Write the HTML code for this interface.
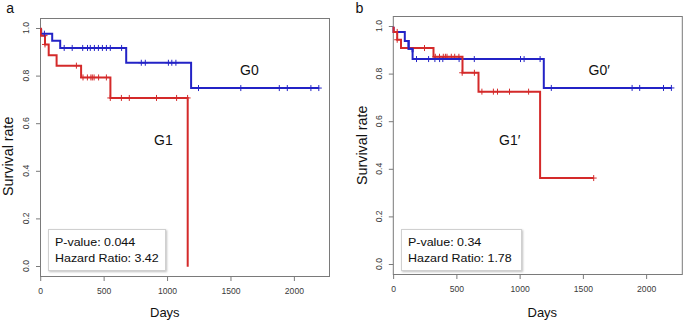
<!DOCTYPE html>
<html><head><meta charset="utf-8"><style>
html,body{margin:0;padding:0;background:#fff;}
body{width:685px;height:322px;position:relative;overflow:hidden;font-family:"Liberation Sans",sans-serif;}
.t{position:absolute;color:#111;white-space:nowrap;line-height:1;}
.leg{position:absolute;box-sizing:border-box;border:1px solid #d0d0d0;background:#fff;box-shadow:1px 1px 2px rgba(0,0,0,0.25);}
.lt{position:absolute;font-size:12.45px;color:#111;white-space:nowrap;line-height:1;transform-origin:0 100%;transform:scaleY(0.88);-webkit-text-stroke:0.05px #111;}
.rot{transform-origin:0 0;transform:rotate(-90deg);}
</style></head><body>
<svg width="685" height="322" viewBox="0 0 685 322" style="position:absolute;left:0;top:0">
<style>.tl{font-family:"Liberation Sans",sans-serif;font-size:9px;fill:#3a3a3a}</style>
<rect x="40.5" y="18.5" width="289" height="258" fill="none" stroke="#7a7a7a" stroke-width="1"/>
<path d="M36,266.50H40.5" stroke="#7a7a7a" stroke-width="1"/>
<text x="0" y="0" transform="translate(29.2,266.00) rotate(-90) scale(0.955,1)" text-anchor="middle" class="tl">0.0</text>
<path d="M36,218.90H40.5" stroke="#7a7a7a" stroke-width="1"/>
<text x="0" y="0" transform="translate(29.2,218.40) rotate(-90) scale(0.955,1)" text-anchor="middle" class="tl">0.2</text>
<path d="M36,171.30H40.5" stroke="#7a7a7a" stroke-width="1"/>
<text x="0" y="0" transform="translate(29.2,170.80) rotate(-90) scale(0.955,1)" text-anchor="middle" class="tl">0.4</text>
<path d="M36,123.70H40.5" stroke="#7a7a7a" stroke-width="1"/>
<text x="0" y="0" transform="translate(29.2,123.20) rotate(-90) scale(0.955,1)" text-anchor="middle" class="tl">0.6</text>
<path d="M36,76.10H40.5" stroke="#7a7a7a" stroke-width="1"/>
<text x="0" y="0" transform="translate(29.2,75.60) rotate(-90) scale(0.955,1)" text-anchor="middle" class="tl">0.8</text>
<path d="M36,28.50H40.5" stroke="#7a7a7a" stroke-width="1"/>
<text x="0" y="0" transform="translate(29.2,28.00) rotate(-90) scale(0.955,1)" text-anchor="middle" class="tl">1.0</text>
<path d="M40.72,276.5V281" stroke="#7a7a7a" stroke-width="1"/>
<text x="0" y="0" transform="translate(40.72,294.0) scale(0.955,1)" text-anchor="middle" class="tl">0</text>
<path d="M104.13,276.5V281" stroke="#7a7a7a" stroke-width="1"/>
<text x="0" y="0" transform="translate(104.13,294.0) scale(0.955,1)" text-anchor="middle" class="tl">500</text>
<path d="M167.55,276.5V281" stroke="#7a7a7a" stroke-width="1"/>
<text x="0" y="0" transform="translate(167.55,294.0) scale(0.955,1)" text-anchor="middle" class="tl">1000</text>
<path d="M230.97,276.5V281" stroke="#7a7a7a" stroke-width="1"/>
<text x="0" y="0" transform="translate(230.97,294.0) scale(0.955,1)" text-anchor="middle" class="tl">1500</text>
<path d="M294.38,276.5V281" stroke="#7a7a7a" stroke-width="1"/>
<text x="0" y="0" transform="translate(294.38,294.0) scale(0.955,1)" text-anchor="middle" class="tl">2000</text>
<rect x="393.3" y="16.5" width="289" height="258" fill="none" stroke="#7a7a7a" stroke-width="1"/>
<path d="M388.8,264.50H393.3" stroke="#7a7a7a" stroke-width="1"/>
<text x="0" y="0" transform="translate(382.0,264.00) rotate(-90) scale(0.955,1)" text-anchor="middle" class="tl">0.0</text>
<path d="M388.8,216.90H393.3" stroke="#7a7a7a" stroke-width="1"/>
<text x="0" y="0" transform="translate(382.0,216.40) rotate(-90) scale(0.955,1)" text-anchor="middle" class="tl">0.2</text>
<path d="M388.8,169.30H393.3" stroke="#7a7a7a" stroke-width="1"/>
<text x="0" y="0" transform="translate(382.0,168.80) rotate(-90) scale(0.955,1)" text-anchor="middle" class="tl">0.4</text>
<path d="M388.8,121.70H393.3" stroke="#7a7a7a" stroke-width="1"/>
<text x="0" y="0" transform="translate(382.0,121.20) rotate(-90) scale(0.955,1)" text-anchor="middle" class="tl">0.6</text>
<path d="M388.8,74.10H393.3" stroke="#7a7a7a" stroke-width="1"/>
<text x="0" y="0" transform="translate(382.0,73.60) rotate(-90) scale(0.955,1)" text-anchor="middle" class="tl">0.8</text>
<path d="M388.8,26.50H393.3" stroke="#7a7a7a" stroke-width="1"/>
<text x="0" y="0" transform="translate(382.0,26.00) rotate(-90) scale(0.955,1)" text-anchor="middle" class="tl">1.0</text>
<path d="M393.64,274.5V279.0" stroke="#7a7a7a" stroke-width="1"/>
<text x="0" y="0" transform="translate(393.64,292.0) scale(0.955,1)" text-anchor="middle" class="tl">0</text>
<path d="M456.89,274.5V279.0" stroke="#7a7a7a" stroke-width="1"/>
<text x="0" y="0" transform="translate(456.89,292.0) scale(0.955,1)" text-anchor="middle" class="tl">500</text>
<path d="M520.14,274.5V279.0" stroke="#7a7a7a" stroke-width="1"/>
<text x="0" y="0" transform="translate(520.14,292.0) scale(0.955,1)" text-anchor="middle" class="tl">1000</text>
<path d="M583.39,274.5V279.0" stroke="#7a7a7a" stroke-width="1"/>
<text x="0" y="0" transform="translate(583.39,292.0) scale(0.955,1)" text-anchor="middle" class="tl">1500</text>
<path d="M646.64,274.5V279.0" stroke="#7a7a7a" stroke-width="1"/>
<text x="0" y="0" transform="translate(646.64,292.0) scale(0.955,1)" text-anchor="middle" class="tl">2000</text>
<g transform="translate(0,0.25)">
<path d="M41.2,28.5V33.4H52.2V40.6H60.2V47.7H126.2V62.5H191.1V87.8H318.8" stroke="#2323c6" stroke-width="2" fill="none" stroke-linejoin="miter" stroke-linecap="butt"/>
<path d="M40.6,28.5H41V35.4H45V44.2H48.7V54.9H56.6V65.4H81.1V77.2H110.4V97.7H187.7V266.5" stroke="#d42a2a" stroke-width="2" fill="none" stroke-linejoin="miter" stroke-linecap="butt"/>
<path d="M41.50,35.40H47.50M44.50,32.40V38.40" stroke="#d42a2a" stroke-width="1" fill="none"/>
<path d="M42.00,44.20H48.00M45.00,41.20V47.20" stroke="#d42a2a" stroke-width="1" fill="none"/>
<path d="M73.40,65.40H79.40M76.40,62.40V68.40" stroke="#d42a2a" stroke-width="1" fill="none"/>
<path d="M80.00,77.20H86.00M83.00,74.20V80.20" stroke="#d42a2a" stroke-width="1" fill="none"/>
<path d="M84.40,77.20H90.40M87.40,74.20V80.20" stroke="#d42a2a" stroke-width="1" fill="none"/>
<path d="M87.90,77.20H93.90M90.90,74.20V80.20" stroke="#d42a2a" stroke-width="1" fill="none"/>
<path d="M89.30,77.20H95.30M92.30,74.20V80.20" stroke="#d42a2a" stroke-width="1" fill="none"/>
<path d="M91.10,77.20H97.10M94.10,74.20V80.20" stroke="#d42a2a" stroke-width="1" fill="none"/>
<path d="M95.60,77.20H101.60M98.60,74.20V80.20" stroke="#d42a2a" stroke-width="1" fill="none"/>
<path d="M103.40,77.20H109.40M106.40,74.20V80.20" stroke="#d42a2a" stroke-width="1" fill="none"/>
<path d="M107.30,97.70H113.30M110.30,94.70V100.70" stroke="#d42a2a" stroke-width="1" fill="none"/>
<path d="M118.40,97.70H124.40M121.40,94.70V100.70" stroke="#d42a2a" stroke-width="1" fill="none"/>
<path d="M126.30,97.70H132.30M129.30,94.70V100.70" stroke="#d42a2a" stroke-width="1" fill="none"/>
<path d="M153.50,97.70H159.50M156.50,94.70V100.70" stroke="#d42a2a" stroke-width="1" fill="none"/>
<path d="M173.60,97.70H179.60M176.60,94.70V100.70" stroke="#d42a2a" stroke-width="1" fill="none"/>
<path d="M184.60,97.70H190.60M187.60,94.70V100.70" stroke="#d42a2a" stroke-width="1" fill="none"/>
<path d="M41.40,33.40H47.40M44.40,30.40V36.40" stroke="#2323c6" stroke-width="1" fill="none"/>
<path d="M61.20,47.70H67.20M64.20,44.70V50.70" stroke="#2323c6" stroke-width="1" fill="none"/>
<path d="M69.20,47.70H75.20M72.20,44.70V50.70" stroke="#2323c6" stroke-width="1" fill="none"/>
<path d="M79.70,47.70H85.70M82.70,44.70V50.70" stroke="#2323c6" stroke-width="1" fill="none"/>
<path d="M84.50,47.70H90.50M87.50,44.70V50.70" stroke="#2323c6" stroke-width="1" fill="none"/>
<path d="M87.30,47.70H93.30M90.30,44.70V50.70" stroke="#2323c6" stroke-width="1" fill="none"/>
<path d="M91.40,47.70H97.40M94.40,44.70V50.70" stroke="#2323c6" stroke-width="1" fill="none"/>
<path d="M95.40,47.70H101.40M98.40,44.70V50.70" stroke="#2323c6" stroke-width="1" fill="none"/>
<path d="M99.40,47.70H105.40M102.40,44.70V50.70" stroke="#2323c6" stroke-width="1" fill="none"/>
<path d="M103.40,47.70H109.40M106.40,44.70V50.70" stroke="#2323c6" stroke-width="1" fill="none"/>
<path d="M107.30,47.70H113.30M110.30,44.70V50.70" stroke="#2323c6" stroke-width="1" fill="none"/>
<path d="M118.60,47.70H124.60M121.60,44.70V50.70" stroke="#2323c6" stroke-width="1" fill="none"/>
<path d="M138.30,62.50H144.30M141.30,59.50V65.50" stroke="#2323c6" stroke-width="1" fill="none"/>
<path d="M142.30,62.50H148.30M145.30,59.50V65.50" stroke="#2323c6" stroke-width="1" fill="none"/>
<path d="M165.40,62.50H171.40M168.40,59.50V65.50" stroke="#2323c6" stroke-width="1" fill="none"/>
<path d="M168.80,62.50H174.80M171.80,59.50V65.50" stroke="#2323c6" stroke-width="1" fill="none"/>
<path d="M172.90,62.50H178.90M175.90,59.50V65.50" stroke="#2323c6" stroke-width="1" fill="none"/>
<path d="M195.50,87.80H201.50M198.50,84.80V90.80" stroke="#2323c6" stroke-width="1" fill="none"/>
<path d="M237.80,87.80H243.80M240.80,84.80V90.80" stroke="#2323c6" stroke-width="1" fill="none"/>
<path d="M276.30,87.80H282.30M279.30,84.80V90.80" stroke="#2323c6" stroke-width="1" fill="none"/>
<path d="M284.30,87.80H290.30M287.30,84.80V90.80" stroke="#2323c6" stroke-width="1" fill="none"/>
<path d="M307.90,87.80H313.90M310.90,84.80V90.80" stroke="#2323c6" stroke-width="1" fill="none"/>
<path d="M315.80,87.80H321.80M318.80,84.80V90.80" stroke="#2323c6" stroke-width="1" fill="none"/>
<path d="M394.20,31.70H400.20M397.20,28.70V34.70" stroke="#d42a2a" stroke-width="1" fill="none"/>
<path d="M394.20,39.50H400.20M397.20,36.50V42.50" stroke="#d42a2a" stroke-width="1" fill="none"/>
<path d="M421.50,47.80H427.50M424.50,44.80V50.80" stroke="#d42a2a" stroke-width="1" fill="none"/>
<path d="M432.30,56.50H438.30M435.30,53.50V59.50" stroke="#d42a2a" stroke-width="1" fill="none"/>
<path d="M436.50,56.50H442.50M439.50,53.50V59.50" stroke="#d42a2a" stroke-width="1" fill="none"/>
<path d="M440.30,56.50H446.30M443.30,53.50V59.50" stroke="#d42a2a" stroke-width="1" fill="none"/>
<path d="M442.40,56.50H448.40M445.40,53.50V59.50" stroke="#d42a2a" stroke-width="1" fill="none"/>
<path d="M444.00,56.50H450.00M447.00,53.50V59.50" stroke="#d42a2a" stroke-width="1" fill="none"/>
<path d="M448.30,56.50H454.30M451.30,53.50V59.50" stroke="#d42a2a" stroke-width="1" fill="none"/>
<path d="M451.70,56.50H457.70M454.70,53.50V59.50" stroke="#d42a2a" stroke-width="1" fill="none"/>
<path d="M455.90,56.50H461.90M458.90,53.50V59.50" stroke="#d42a2a" stroke-width="1" fill="none"/>
<path d="M459.20,72.50H465.20M462.20,69.50V75.50" stroke="#d42a2a" stroke-width="1" fill="none"/>
<path d="M471.40,72.50H477.40M474.40,69.50V75.50" stroke="#d42a2a" stroke-width="1" fill="none"/>
<path d="M478.90,91.40H484.90M481.90,88.40V94.40" stroke="#d42a2a" stroke-width="1" fill="none"/>
<path d="M490.40,91.40H496.40M493.40,88.40V94.40" stroke="#d42a2a" stroke-width="1" fill="none"/>
<path d="M494.50,91.40H500.50M497.50,88.40V94.40" stroke="#d42a2a" stroke-width="1" fill="none"/>
<path d="M506.50,91.40H512.50M509.50,88.40V94.40" stroke="#d42a2a" stroke-width="1" fill="none"/>
<path d="M525.60,91.40H531.60M528.60,88.40V94.40" stroke="#d42a2a" stroke-width="1" fill="none"/>
<path d="M590.70,177.80H596.70M593.70,174.80V180.80" stroke="#d42a2a" stroke-width="1" fill="none"/>
<path d="M413.50,58.80H419.50M416.50,55.80V61.80" stroke="#2323c6" stroke-width="1" fill="none"/>
<path d="M425.60,58.80H431.60M428.60,55.80V61.80" stroke="#2323c6" stroke-width="1" fill="none"/>
<path d="M431.90,58.80H437.90M434.90,55.80V61.80" stroke="#2323c6" stroke-width="1" fill="none"/>
<path d="M436.60,58.80H442.60M439.60,55.80V61.80" stroke="#2323c6" stroke-width="1" fill="none"/>
<path d="M439.80,58.80H445.80M442.80,55.80V61.80" stroke="#2323c6" stroke-width="1" fill="none"/>
<path d="M456.10,58.80H462.10M459.10,55.80V61.80" stroke="#2323c6" stroke-width="1" fill="none"/>
<path d="M471.30,58.80H477.30M474.30,55.80V61.80" stroke="#2323c6" stroke-width="1" fill="none"/>
<path d="M517.50,58.80H523.50M520.50,55.80V61.80" stroke="#2323c6" stroke-width="1" fill="none"/>
<path d="M521.10,58.80H527.10M524.10,55.80V61.80" stroke="#2323c6" stroke-width="1" fill="none"/>
<path d="M537.10,58.80H543.10M540.10,55.80V61.80" stroke="#2323c6" stroke-width="1" fill="none"/>
<path d="M548.30,87.70H554.30M551.30,84.70V90.70" stroke="#2323c6" stroke-width="1" fill="none"/>
<path d="M629.10,87.70H635.10M632.10,84.70V90.70" stroke="#2323c6" stroke-width="1" fill="none"/>
<path d="M636.70,87.70H642.70M639.70,84.70V90.70" stroke="#2323c6" stroke-width="1" fill="none"/>
<path d="M660.50,87.70H666.50M663.50,84.70V90.70" stroke="#2323c6" stroke-width="1" fill="none"/>
<path d="M668.40,87.70H674.40M671.40,84.70V90.70" stroke="#2323c6" stroke-width="1" fill="none"/>
<path d="M393.6,26.4V31.7H404.8V40.8H408.6V48.4H412.6V58.8H543.8V87.7H671.4" stroke="#2323c6" stroke-width="2" fill="none" stroke-linejoin="miter" stroke-linecap="butt"/>
<path d="M393.6,26.4V31.7H397.2V39.5H401V47.8H433.5V56.5H462.5V72.5H478.5V91.4H540.1V177.8H593.7" stroke="#d42a2a" stroke-width="2" fill="none" stroke-linejoin="miter" stroke-linecap="butt"/>
<path d="M404.8,40.8H408.6V48.4H412.6V52" stroke="#2323c6" stroke-width="2" fill="none" stroke-linejoin="miter" stroke-linecap="butt"/>
</g>
</svg>
<div class="t" style="left:6.3px;top:0.8px;font-size:14px;-webkit-text-stroke:0">a</div>
<div class="t" style="left:355.6px;top:1.3px;font-size:14.2px;-webkit-text-stroke:0">b</div>
<div class="t rot" style="left:1px;top:196px;font-size:14.3px">Survival rate</div>
<div class="t rot" style="left:355px;top:184.9px;font-size:14.3px">Survival rate</div>
<div class="t" style="left:150px;top:306px;font-size:13px">Days</div>
<div class="t" style="left:527.5px;top:306px;font-size:13px">Days</div>
<div class="t" style="left:240px;top:63px;font-size:14px">G0</div>
<div class="t" style="left:154px;top:132.8px;font-size:14px">G1</div>
<div class="t" style="left:588.5px;top:63px;font-size:14px">G0&#8242;</div>
<div class="t" style="left:499px;top:132.5px;font-size:14px">G1&#8242;</div>
<div class="leg" style="left:48px;top:229px;width:118px;height:42px"></div>
<div class="lt" style="left:55px;top:235.6px">P-value: 0.044</div>
<div class="lt" style="left:55px;top:252.4px">Hazard Ratio: 3.42</div>
<div class="leg" style="left:401px;top:229px;width:120.5px;height:42px"></div>
<div class="lt" style="left:408px;top:235.6px">P-value: 0.34</div>
<div class="lt" style="left:408px;top:252.4px">Hazard Ratio: 1.78</div>
</body></html>
